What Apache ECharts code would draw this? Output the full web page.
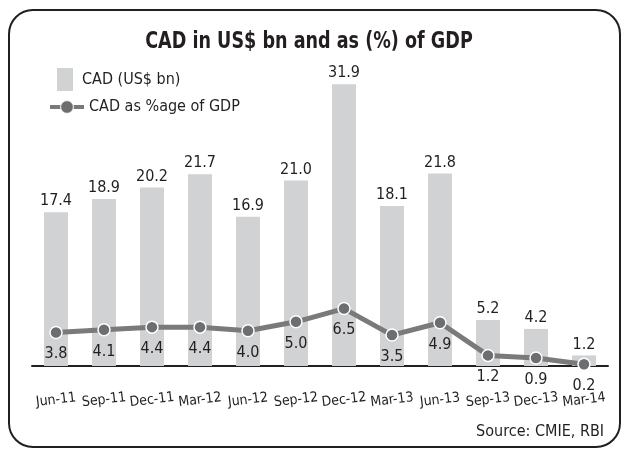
<!DOCTYPE html>
<html>
<head>
<meta charset="utf-8">
<script src="https://cdn.jsdelivr.net/npm/echarts@6/dist/echarts.min.js"></script>
<style>
  html, body { margin: 0; padding: 0; background: #fff; }
  #main { width: 625px; height: 450px; }
</style>
</head>
<body>
<div id="main"></div>
<script>
// Data
var quarters = ['Jun-11', 'Sep-11', 'Dec-11', 'Mar-12', 'Jun-12', 'Sep-12',
                'Dec-12', 'Mar-13', 'Jun-13', 'Sep-13', 'Dec-13', 'Mar-14'];
var cadBn = [17.4, 18.9, 20.2, 21.7, 16.9, 21.0, 31.9, 18.1, 21.8, 5.2, 4.2, 1.2];
var cadPctGdp = [3.8, 4.1, 4.4, 4.4, 4.0, 5.0, 6.5, 3.5, 4.9, 1.2, 0.9, 0.2];

// narrow face is not installed, condensed DejaVu is the closest
var font = "'Liberation Sans Narrow', 'DejaVu Sans Condensed', 'Roboto', sans-serif";
var ink = '#231f20';

var chart = echarts.init(document.getElementById('main'));

var option = {
  backgroundColor: '#fff',
  animation: false,
  legend: [
    {
      data: ['CAD (US$ bn)'],
      left: 52, top: 63,
      icon: 'rect',
      itemWidth: 16, itemHeight: 23,
      textStyle: { fontFamily: font, fontSize: 16, color: ink, padding: [3, 0, 0, 4] }
    },
    {
      data: ['CAD as %age of GDP'],
      left: 43, top: 94,
      itemWidth: 34, itemHeight: 16,
      itemStyle: { borderWidth: 1 },
      lineStyle: { width: 4 },
      textStyle: { fontFamily: font, fontSize: 16, color: ink }
    }
  ],
  grid: { left: 32, right: 17, top: 48, bottom: 84 },
  xAxis: {
    type: 'category',
    data: quarters,
    axisLine: { lineStyle: { color: ink, width: 2 } },
    axisTick: { show: false },
    axisLabel: {
      fontFamily: font, fontSize: 14, color: ink,
      rotate: 7, align: 'center', verticalAlign: 'middle', margin: 34,
      interval: 0
    }
  },
  yAxis: {
    type: 'value',
    min: 0, max: 36,
    show: false
  },
  series: [
    {
      name: 'CAD (US$ bn)',
      type: 'bar',
      data: cadBn,
      barWidth: 24,
      itemStyle: { color: '#d1d2d4' },
      label: {
        show: true, position: 'top', distance: 3,
        fontFamily: font, fontSize: 16, color: ink,
        formatter: function (p) { return p.value.toFixed(1); }
      }
    },
    {
      name: 'CAD as %age of GDP',
      type: 'line',
      data: cadPctGdp,
      symbol: 'circle',
      symbolSize: 12,
      lineStyle: { color: '#7a7a7a', width: 5 },
      itemStyle: { color: '#6d6e70', borderColor: '#fff', borderWidth: 1.5 },
      label: {
        show: true, position: 'bottom', distance: 7,
        fontFamily: font, fontSize: 16, color: ink,
        formatter: function (p) { return p.value.toFixed(1); }
      },
      z: 3
    }
  ],
  graphic: [
    {
      type: 'rect',
      shape: { x: 9, y: 10, width: 611, height: 437, r: 24 },
      style: { fill: 'none', stroke: ink, lineWidth: 2 },
      silent: true
    },
    {
      // title squeezed sideways to look like the condensed face
      type: 'text',
      x: 309, y: 42, scaleX: 0.85,
      style: {
        text: 'CAD in US$ bn and as (%) of GDP',
        font: 'bold 23px ' + font, fill: ink,
        align: 'center', verticalAlign: 'middle'
      }
    },
    {
      type: 'text',
      right: 21, top: 424,
      style: { text: 'Source: CMIE, RBI', font: '16px ' + font, fill: ink }
    }
  ]
};

chart.setOption(option);
</script>
</body>
</html>
